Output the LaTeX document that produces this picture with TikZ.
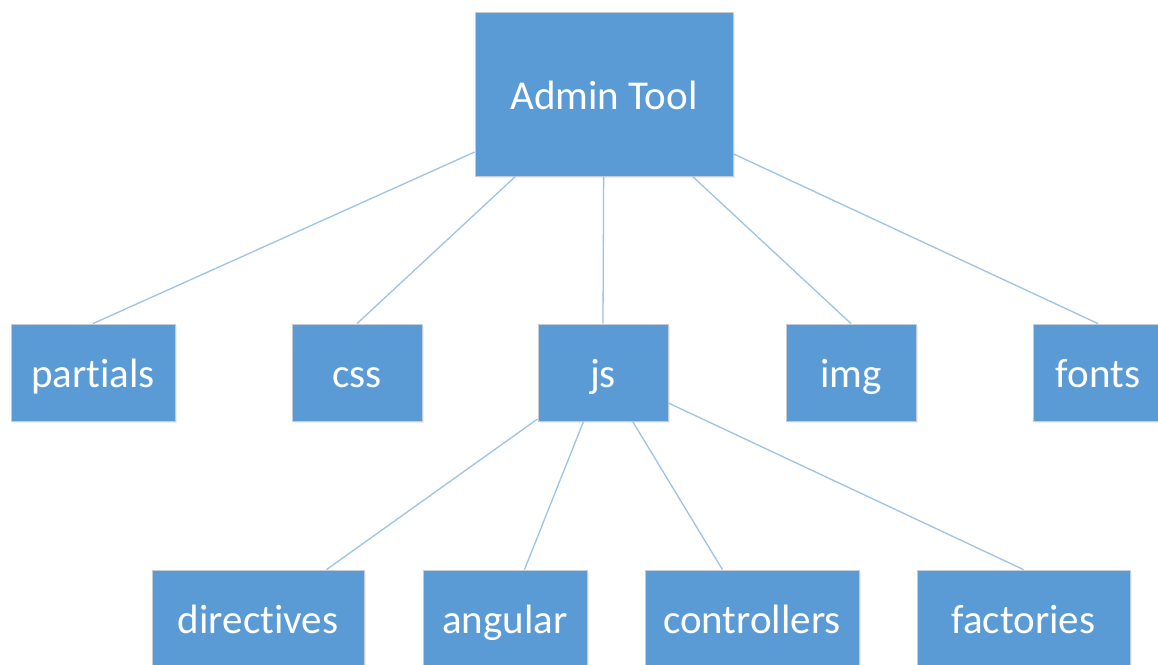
\documentclass[tikz,border=0pt]{standalone}
\usepackage{fontspec}
\setmainfont{Carlito}[Ligatures={NoCommon}]
\usetikzlibrary{shadows}
\definecolor{boxfill}{HTML}{5B9BD5}
\definecolor{boxline}{HTML}{C4CCD6}
\definecolor{linkline}{HTML}{9DC3E6}
\tikzset{
  folder/.style={draw=boxline, line width=0.8pt, fill=boxfill, text=white,
    font=\fontsize{41}{48}\selectfont, inner sep=0pt,
    text height=32pt, text depth=2pt,
    drop shadow={opacity=0.12, shadow xshift=1.5pt, shadow yshift=-2pt}},
  link/.style={draw=linkline, line width=1.3pt}
}
\begin{document}
\begin{tikzpicture}[x=1pt, y=-1pt]
  \clip (0,0) rectangle (1158,664);
  \fill[white] (0,0) rectangle (1158,664);

  % root
  \node[folder, minimum width=258pt, minimum height=164pt] (admin) at (604,94) {Admin Tool};

  % first level
  \node[folder, minimum width=164pt, minimum height=97pt] (partials) at (93,372.5) {partials};
  \node[folder, minimum width=130pt, minimum height=97pt] (css) at (357,372.5) {css};
  \node[folder, minimum width=130pt, minimum height=97pt] (js) at (603,372.5) {js};
  \node[folder, minimum width=130pt, minimum height=97pt] (img) at (851,372.5) {img};
  \node[folder, minimum width=130pt, minimum height=97pt] (fonts) at (1098,372.5) {fonts};

  % second level
  \node[folder, minimum width=212pt, minimum height=97pt] (directives) at (258,618.5) {directives};
  \node[folder, minimum width=164pt, minimum height=97pt] (angular) at (505,618.5) {angular};
  \node[folder, minimum width=214pt, minimum height=97pt] (controllers) at (752,618.5) {controllers};
  \node[folder, minimum width=213pt, minimum height=97pt] (factories) at (1023.5,618.5) {factories};

  % connectors
  \draw[link] (admin) -- (partials.north);
  \draw[link] (admin) -- (css.north);
  \draw[link] (admin) -- (js.north);
  \draw[link] (admin) -- (img.north);
  \draw[link] (admin) -- (fonts.north);

  \draw[link] (js) -- (directives);
  \draw[link] (js) -- (angular);
  \draw[link] (js) -- (controllers);
  \draw[link] (js) -- (factories.north);
\end{tikzpicture}
\end{document}
